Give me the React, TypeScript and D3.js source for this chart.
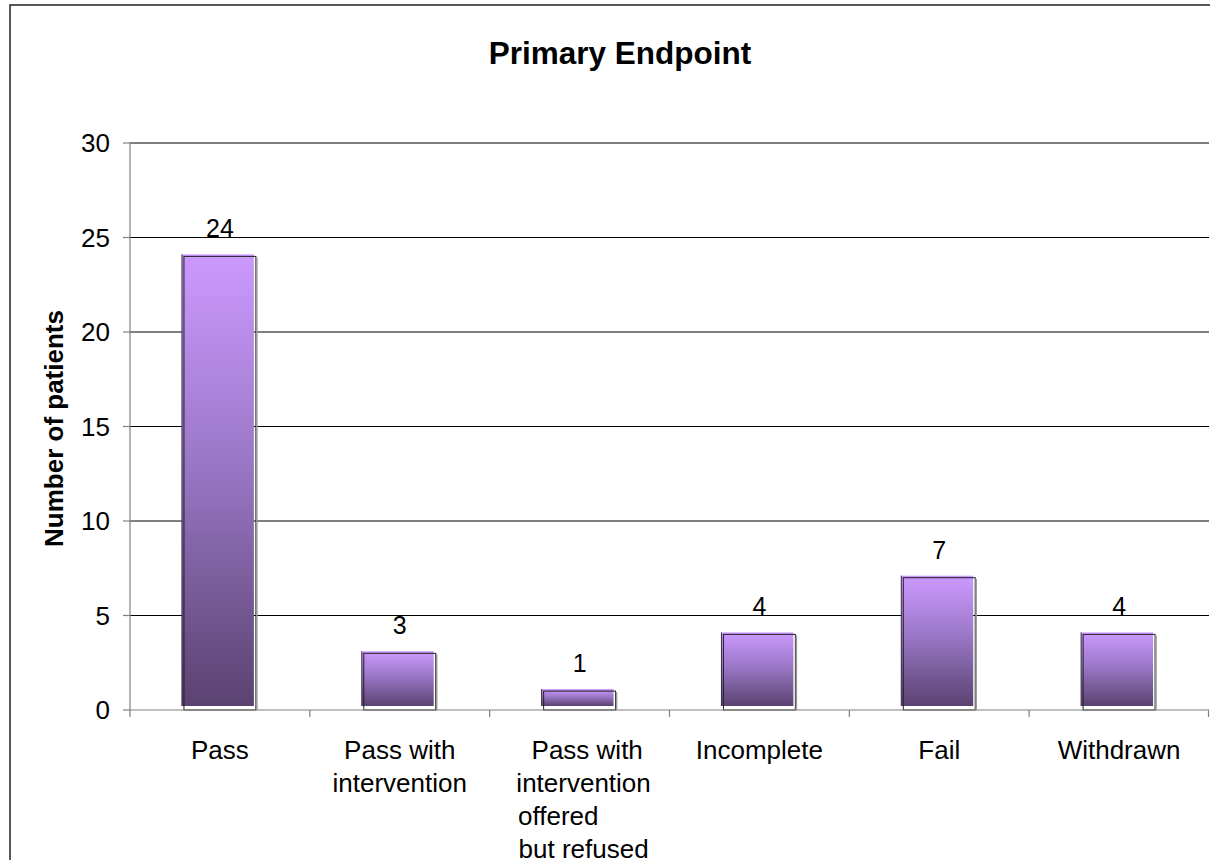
import React from 'react';
import * as d3 from 'd3';

// chart data
const categories: string[][] = [
  ['Pass'],
  ['Pass with', 'intervention'],
  [' Pass with', 'intervention', 'offered       ', 'but refused'],
  ['Incomplete'],
  ['Fail'],
  ['Withdrawn'],
];
const patients: number[] = [24, 3, 1, 4, 7, 4];
const yTicks: number[] = [0, 5, 10, 15, 20, 25, 30];

const W = 1210;
const H = 860;
const margin = { top: 143, right: 1, bottom: 150, left: 130 };
const FONT = '"Liberation Sans", Arial, sans-serif';

const App: React.FC = () => {
  const innerW = W - margin.left - margin.right;
  const innerH = H - margin.top - margin.bottom;

  const x = d3.scaleBand<number>()
    .domain(d3.range(categories.length))
    .range([margin.left, margin.left + innerW])
    .paddingInner(0)
    .paddingOuter(0);

  const y = d3.scaleLinear()
    .domain([0, 30])
    .range([margin.top + innerH, margin.top]);

  const barW = x.bandwidth() * 0.4;
  const y0 = y(0);
  const right = margin.left + innerW;

  return (
    <svg
      width={W}
      height={H}
      style={{ position: 'absolute', left: 0, top: 0, background: '#fff', fontFamily: FONT }}
    >
      <defs>
        <linearGradient id="barGrad" x1="0" y1="0" x2="0" y2="1">
          <stop offset="0%" stopColor="#cc99ff" />
          <stop offset="45%" stopColor="#9c78c8" />
          <stop offset="100%" stopColor="#5a4270" />
        </linearGradient>
      </defs>

      {/* outer frame */}
      <rect x={10} y={5} width={1400} height={1000} fill="none" stroke="#222" strokeWidth={1.5} />

      <text x={620} y={64} textAnchor="middle" fontWeight="bold" fontSize={31.5} fill="#000">
        Primary Endpoint
      </text>

      <text
        transform={`translate(63, ${(margin.top + y0) / 2 + 2}) rotate(-90)`}
        textAnchor="middle"
        fontWeight="bold"
        fontSize={26}
        fill="#000"
      >
        Number of patients
      </text>

      {/* gridlines */}
      {yTicks.filter(t => t > 0).map(t => (
        <line key={'g' + t} x1={margin.left} x2={right} y1={y(t)} y2={y(t)} stroke="#000" strokeWidth={1} />
      ))}

      {/* y axis */}
      <line x1={margin.left} x2={margin.left} y1={margin.top} y2={y0} stroke="#808080" strokeWidth={1.2} />
      {yTicks.map(t => (
        <g key={'t' + t}>
          <line x1={margin.left - 7} x2={margin.left} y1={y(t)} y2={y(t)} stroke="#808080" strokeWidth={1.2} />
          <text x={110} y={y(t)} dy="0.35em" textAnchor="end" fontSize={26} fill="#000">{t}</text>
        </g>
      ))}

      {/* bars */}
      {patients.map((v, i) => {
        const cx = (x(i) as number) + x.bandwidth() / 2;
        const bx = cx - barW / 2;
        const top = y(v);
        return (
          <g key={'b' + i}>
            <rect x={bx - 2} y={top - 2} width={barW} height={Math.max(0, y0 - top - 2)} fill="url(#barGrad)" />
            <line x1={bx - 2} x2={bx - 2} y1={top - 2} y2={y0 - 4} stroke="#3a2a4a" strokeWidth={1} />
            <rect x={bx} y={top} width={barW} height={y0 - top} fill="none" stroke="#222" strokeWidth={1} />
            <line x1={bx + barW + 1} x2={bx + barW + 1} y1={top + 1} y2={y0} stroke="#999" strokeWidth={1.5} />
            <text x={cx} y={top - 19} textAnchor="middle" fontSize={25} fill="#000">{v}</text>
          </g>
        );
      })}

      {/* x axis */}
      <line x1={margin.left} x2={right} y1={y0} y2={y0} stroke="#808080" strokeWidth={1.2} />
      {d3.range(categories.length + 1).map(i => {
        const tx = i < categories.length ? (x(i) as number) : right - 0.5;
        return <line key={'xt' + i} x1={tx} x2={tx} y1={y0} y2={y0 + 7} stroke="#808080" strokeWidth={1.2} />;
      })}
      {categories.map((lines, i) => {
        const cx = (x(i) as number) + x.bandwidth() / 2;
        return (
          <text key={'xl' + i} x={cx} y={759} textAnchor="middle" fontSize={26} fill="#000" style={{ whiteSpace: 'pre' }}>
            {lines.map((l, j) => (
              <tspan key={j} x={cx + (lines.length > 2 ? 4 : 0)} y={759 + j * 33}>{l}</tspan>
            ))}
          </text>
        );
      })}
    </svg>
  );
};

export default App;
